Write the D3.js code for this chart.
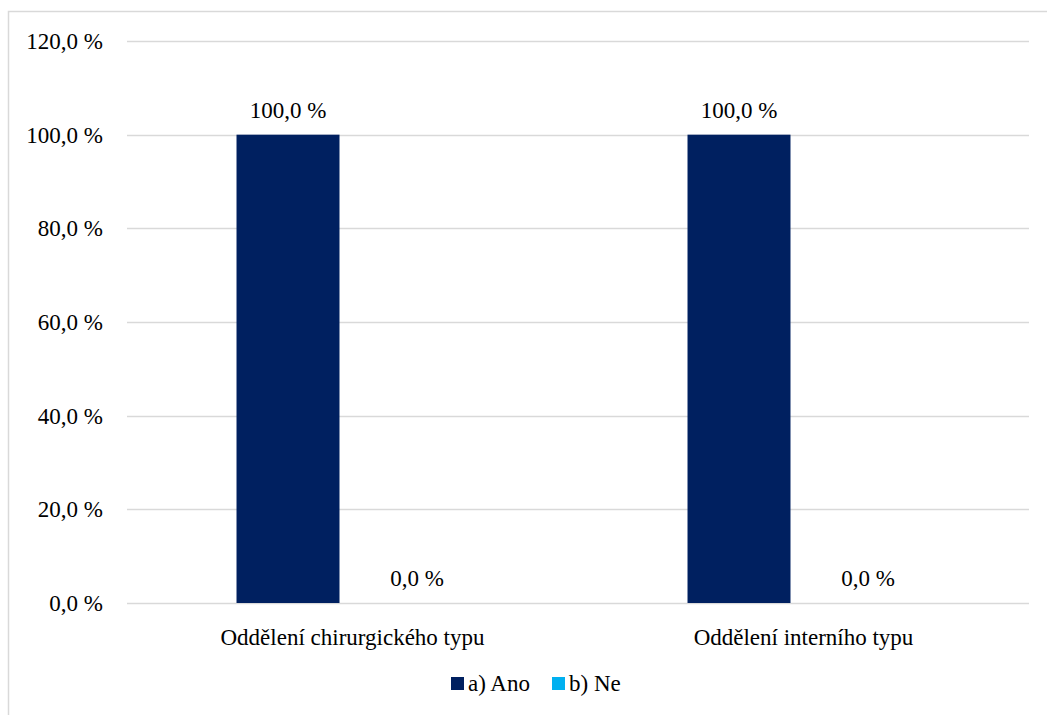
<!DOCTYPE html>
<html>
<head>
<meta charset="utf-8">
<script src="https://cdn.jsdelivr.net/npm/d3@7"></script>
<style>
  html, body { margin: 0; padding: 0; background: #fff; }
  svg { display: block; }
</style>
</head>
<body>
<svg id="chart" width="1047" height="715"></svg>
<script>
// Chart data
const categories = ["Oddělení chirurgického typu", "Oddělení interního typu"];
const seriesNames = ["a) Ano", "b) Ne"];
const anoValues = [100, 100];
const neValues = [0, 0];
const yTicks = [0, 20, 40, 60, 80, 100, 120];
const seriesColors = ["#002060", "#00B0F0"];

const seriesValues = [anoValues, neValues];
const fmt = v => d3.format(".1f")(v).replace(".", ",") + " %";
const FONT = "Times New Roman, Liberation Serif, Tinos, DejaVu Serif, serif";
const FS = 23;

const svg = d3.select("#chart");
const W = 1047, H = 715;

// Outer frame (right and bottom edges fall outside the canvas)
svg.append("rect")
  .attr("x", 8.5).attr("y", 11.5)
  .attr("width", W + 10).attr("height", H + 10)
  .attr("fill", "none").attr("stroke", "#d9d9d9").attr("stroke-width", 1.5);

const plot = { left: 127, right: 1029, top: 41, bottom: 603 };

const y = d3.scaleLinear().domain([0, 120]).range([plot.bottom, plot.top]);
const x0 = d3.scaleBand().domain(categories).range([plot.left, plot.right]).padding(0);
const x1 = d3.scaleBand().domain(seriesNames).range([0, x0.bandwidth()])
  .paddingInner(0.2016).paddingOuter(0.849);

// Gridlines
svg.append("g")
  .selectAll("line")
  .data(yTicks)
  .join("line")
  .attr("x1", plot.left).attr("x2", plot.right)
  .attr("y1", d => Math.round(y(d)) + 0.5).attr("y2", d => Math.round(y(d)) + 0.5)
  .attr("stroke", "#d9d9d9").attr("stroke-width", 1.5);

// Y axis labels
const yAxis = d3.axisLeft(y).tickValues(yTicks).tickFormat(fmt).tickSize(0).tickPadding(0);
const yg = svg.append("g").attr("transform", `translate(${103},0)`).call(yAxis)
  .attr("font-family", FONT).attr("font-size", FS);
yg.select(".domain").remove();
yg.selectAll("text")
  .attr("font-family", FONT)
  .attr("font-size", FS)
  .attr("fill", "#000")
  .attr("dy", "0.32em");

// Bars
const groups = svg.append("g")
  .selectAll("g")
  .data(categories)
  .join("g")
  .attr("transform", d => `translate(${x0(d)},0)`);

const cells = groups.selectAll("g.cell")
  .data((c, i) => seriesNames.map((s, j) => ({ series: s, value: seriesValues[j][i], color: seriesColors[j] })))
  .join("g").attr("class", "cell");

cells.append("rect")
  .attr("x", d => x1(d.series))
  .attr("width", x1.bandwidth())
  .attr("y", d => y(d.value))
  .attr("height", d => y(0) - y(d.value))
  .attr("fill", d => d.color);

cells.append("text")
  .attr("x", d => x1(d.series) + x1.bandwidth() / 2)
  .attr("y", d => y(d.value) - 17)
  .attr("text-anchor", "middle")
  .attr("font-family", FONT)
  .attr("font-size", FS)
  .text(d => fmt(d.value));

// Category labels
svg.append("g")
  .selectAll("text")
  .data(categories)
  .join("text")
  .attr("x", d => x0(d) + x0.bandwidth() / 2)
  .attr("y", 645)
  .attr("text-anchor", "middle")
  .attr("font-family", FONT)
  .attr("font-size", FS)
  .text(d => d);

// Legend
const legendItems = [
  { name: seriesNames[0], color: seriesColors[0], x: 451 },
  { name: seriesNames[1], color: seriesColors[1], x: 552 }
];
const lg = svg.append("g").selectAll("g").data(legendItems).join("g")
  .attr("transform", d => `translate(${d.x},677)`);
lg.append("rect").attr("width", 13).attr("height", 13).attr("fill", d => d.color);
lg.append("text").attr("x", 17).attr("y", 14)
  .attr("font-family", FONT)
  .attr("font-size", FS)
  .text(d => d.name);
</script>
</body>
</html>
